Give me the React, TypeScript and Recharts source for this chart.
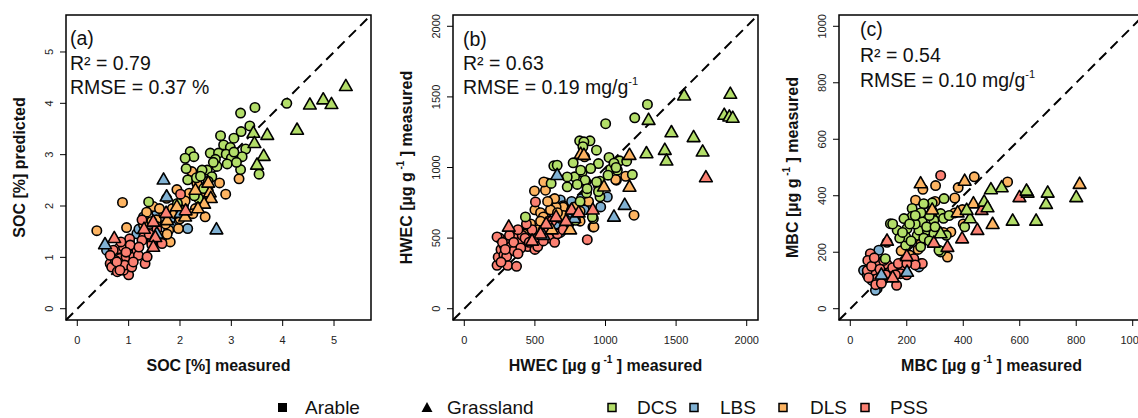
import React from 'react';
import { ScatterChart, Scatter, XAxis, YAxis, ReferenceArea, ReferenceLine } from 'recharts';

type Pt = [number, number];

const FONT = '"Liberation Sans", Arial, Helvetica, sans-serif';

const GROUPS = ['DCS', 'LBS', 'DLS', 'PSS'];
const GROUP_COLORS: Record<string, string> = { DCS: '#B3DE69', LBS: '#80B1D3', DLS: '#FDB462', PSS: '#FB8072' };
const LAND_USES = ['Arable', 'Grassland'];

// (a) SOC [%]
const socTicks = [0, 1, 2, 3, 4, 5];
const socDcsArable: Pt[] = [
  [4.08, 4.0], [3.46, 3.92], [3.18, 3.81], [3.36, 3.56], [3.19, 3.45], [2.79, 3.37], [3.05, 3.32], [3.28, 3.11],
  [2.85, 3.19], [2.98, 3.14], [2.2, 3.06], [2.27, 2.96], [2.1, 2.93], [2.59, 3.03], [2.75, 3.03], [2.9, 3.01],
  [3.21, 2.96], [3.0, 2.93], [2.69, 2.91], [2.92, 2.82], [2.72, 2.77], [2.53, 2.7], [2.62, 2.57], [3.18, 2.71],
  [3.54, 2.62], [2.12, 2.73], [2.43, 2.7], [2.15, 2.51], [2.46, 2.34], [2.36, 2.15], [1.39, 2.08], [2.01, 1.92],
  [2.32, 2.55], [2.65, 2.85], [3.05, 3.05], [2.55, 2.48], [1.95, 2.05], [2.28, 2.2], [3.1, 2.85], [2.4, 2.58],
];
const socDcsGrass: Pt[] = [
  [5.23, 4.33], [4.79, 4.07], [4.53, 3.97], [4.95, 3.98], [4.28, 3.48], [3.7, 3.38], [3.43, 3.42], [3.45, 3.22],
  [3.63, 2.97], [3.5, 2.8],
];
const socLbsArable: Pt[] = [
  [2.15, 1.56], [1.29, 1.79], [1.16, 1.46], [1.81, 1.73], [0.57, 1.14], [2.3, 2.5], [1.55, 1.85], [1.02, 1.28],
  [2.05, 2.2], [1.2, 1.55], [1.45, 1.3], [1.85, 1.6],
];
const socLbsGrass: Pt[] = [[1.68, 2.51], [1.74, 2.18], [2.71, 1.54], [0.54, 1.25], [2.01, 1.86], [1.55, 1.46]];
const socDlsArable: Pt[] = [
  [0.38, 1.52], [0.88, 2.07], [0.96, 1.58], [2.89, 2.23], [2.77, 2.45], [3.15, 2.53], [2.49, 1.79], [2.23, 2.67],
  [1.48, 1.99], [1.74, 2.15], [1.94, 2.32], [1.54, 1.73], [1.78, 1.53], [1.97, 1.56], [1.81, 1.3], [1.68, 1.86],
  [2.07, 2.02], [2.3, 1.95], [2.46, 2.06], [1.29, 1.63], [2.33, 2.44], [1.62, 1.42], [2.0, 1.75], [1.85, 1.95],
  [2.18, 2.25], [1.35, 1.88], [2.55, 2.3], [1.72, 1.65], [1.42, 1.48], [2.25, 1.85], [1.55, 1.6], [1.9, 1.85],
  [2.1, 2.1], [1.45, 1.7], [1.75, 1.45], [2.4, 2.2], [1.6, 1.95],
];
const socDlsGrass: Pt[] = [
  [2.58, 2.26], [2.6, 2.15], [2.47, 2.04], [2.3, 2.31], [2.1, 1.79], [1.94, 1.99], [2.55, 2.45], [1.75, 1.72], [2.35, 1.95],
];
const socPssArable: Pt[] = [
  [2.01, 2.23], [1.26, 1.73], [1.29, 1.39], [1.02, 1.36], [1.04, 1.22], [1.32, 0.88], [1.0, 0.66], [0.9, 0.75],
  [0.7, 1.07], [0.8, 1.17], [0.64, 0.88], [0.67, 0.81], [0.78, 0.72], [0.83, 0.98], [0.95, 1.01], [1.1, 1.01],
  [1.16, 1.14], [0.74, 0.94], [0.92, 0.85], [1.65, 1.27], [1.06, 0.81], [0.7, 1.14], [0.9, 1.2], [0.64, 1.04],
  [1.03, 1.24], [1.19, 1.04], [1.36, 1.01], [1.26, 1.33], [0.77, 0.91], [1.09, 0.91], [0.83, 0.75], [1.55, 1.55],
  [1.45, 1.25], [1.2, 1.2], [0.85, 1.3], [1.4, 1.45], [0.95, 1.1],
];
const socPssGrass: Pt[] = [[0.72, 1.37], [1.48, 1.69], [1.73, 1.86], [2.11, 1.91], [1.52, 1.39], [1.48, 1.2], [1.3, 1.55]];

// (b) HWEC [µg g-1]
const hwecTicks = [0, 500, 1000, 1500, 2000];
const hwecDcsArable: Pt[] = [
  [1297, 1447], [1207, 1352], [1001, 1310], [817, 1189], [890, 1189], [847, 1182], [840, 1147], [936, 1123],
  [1025, 1071], [950, 1028], [1100, 1047], [1150, 1045], [634, 1012], [658, 1016], [771, 1033], [835, 969],
  [1037, 988], [1084, 981], [1190, 950], [961, 903], [855, 910], [781, 934], [729, 863], [615, 887], [937, 898],
  [961, 792], [866, 820], [788, 626], [914, 638], [433, 650], [1018, 946], [895, 993], [824, 981], [729, 933],
  [1060, 1030], [1075, 1000], [800, 880], [870, 850], [950, 830], [907, 650], [820, 760],
];
const hwecDcsGrass: Pt[] = [
  [1884, 1520], [1557, 1508], [1841, 1371], [1877, 1359], [1901, 1350], [1305, 1335], [1467, 1248], [1624, 1213],
  [1420, 1123], [1290, 1099], [1688, 1111], [1432, 1047],
];
const hwecLbsArable: Pt[] = [
  [1013, 791], [966, 721], [680, 770], [700, 690], [720, 640], [690, 580], [650, 600], [760, 760], [800, 720],
  [600, 560], [850, 700], [620, 520], [640, 650], [700, 730], [740, 600], [760, 680], [580, 640], [830, 780], [680, 540],
];
const hwecLbsGrass: Pt[] = [[1136, 733], [1060, 650], [658, 945], [780, 640], [560, 520]];
const hwecDlsArable: Pt[] = [
  [1202, 662], [1077, 910], [911, 579], [497, 834], [587, 891], [1143, 938], [852, 1076], [575, 839], [563, 898],
  [623, 768], [500, 700], [540, 680], [560, 650], [918, 579], [700, 720], [760, 700], [650, 720], [820, 690],
  [450, 560], [420, 530], [600, 620], [1072, 915], [680, 640], [880, 760], [470, 600], [520, 560], [610, 700],
  [640, 780], [700, 660], [730, 600], [780, 720], [540, 620], [590, 760], [660, 680], [820, 620], [500, 520],
  [860, 900], [950, 870],
];
const hwecDlsGrass: Pt[] = [[1170, 862], [1170, 1087], [824, 1095], [989, 863], [847, 1087], [750, 560], [620, 560]];
const hwecPssArable: Pt[] = [
  [504, 756], [871, 489], [232, 307], [307, 307], [240, 365], [260, 420], [280, 450], [250, 500], [300, 480],
  [330, 440], [360, 500], [400, 480], [350, 410], [280, 380], [410, 520], [450, 440], [500, 420], [520, 500],
  [560, 560], [600, 500], [640, 470], [660, 530], [700, 560], [480, 560], [440, 600], [370, 300], [300, 370],
  [380, 560], [620, 620], [232, 508], [270, 470], [320, 520], [350, 470], [400, 430], [430, 500], [260, 330],
  [290, 420], [380, 390], [460, 470], [520, 440], [560, 480],
];
const hwecPssGrass: Pt[] = [
  [1711, 929], [315, 579], [650, 650], [720, 620], [760, 700], [910, 700], [810, 680], [580, 600], [540, 530], [480, 480],
];

// (c) MBC [µg g-1]
const mbcTicks = [0, 200, 400, 600, 800, 1000];
const mbcDcsArable: Pt[] = [
  [142, 301], [332, 390], [290, 375], [261, 370], [219, 355], [219, 327], [190, 319], [320, 337], [296, 313],
  [405, 290], [320, 201], [249, 219], [196, 225], [237, 260], [201, 284], [243, 278], [166, 278], [124, 177],
  [273, 278], [296, 266], [255, 307], [196, 254], [230, 300], [280, 330], [215, 240], [175, 250], [150, 300],
  [340, 260], [260, 372], [314, 207], [210, 300], [250, 340], [270, 290], [300, 290], [230, 330], [185, 270],
  [260, 250], [330, 320], [350, 330], [280, 240],
];
const mbcDcsGrass: Pt[] = [
  [800, 394], [699, 410], [693, 370], [628, 410], [624, 417], [575, 311], [658, 311], [536, 429], [498, 422],
  [474, 378], [486, 358], [424, 319], [412, 349], [320, 266],
];
const mbcLbsArable: Pt[] = [[101, 207], [47, 136], [95, 71], [243, 148], [77, 100], [60, 120], [89, 65]];
const mbcLbsGrass: Pt[] = [[201, 130], [110, 120]];
const mbcDlsArable: Pt[] = [
  [439, 467], [557, 449], [382, 429], [370, 392], [397, 351], [370, 339], [356, 272], [302, 436], [257, 423],
  [231, 384], [344, 183], [290, 346], [210, 190], [250, 230], [400, 300], [180, 205], [270, 250], [300, 380],
  [330, 270], [240, 210],
];
const mbcDlsGrass: Pt[] = [[812, 441], [405, 452], [249, 443], [436, 372], [504, 299], [290, 350], [380, 340]];
const mbcPssArable: Pt[] = [
  [320, 472], [251, 160], [71, 195], [225, 177], [62, 171], [83, 136], [118, 106], [164, 83], [184, 148],
  [95, 106], [112, 136], [148, 112], [178, 124], [130, 157], [255, 160], [100, 160], [140, 130], [60, 135],
  [90, 85], [200, 120], [130, 235], [230, 155], [118, 171], [75, 150], [105, 140], [125, 120], [150, 145],
  [170, 160], [85, 180], [200, 160], [160, 120], [65, 110], [110, 90],
];
const mbcPssGrass: Pt[] = [[599, 394], [465, 349], [450, 278], [396, 248], [296, 233], [344, 218], [130, 240], [150, 110], [200, 185]];

type Series = { group: string; arable: Pt[]; grass: Pt[] };

const panels = [
  {
    left: 0, domain: [-0.22, 5.72], ticks: socTicks,
    xTitle: { main: 'SOC [%] measured' }, yTitle: { main: 'SOC [%] predicted' },
    textX: 70, baselines: [45, 70, 94],
    stats: [{ t: '(a)' }, { t: 'R² = 0.79' }, { t: 'RMSE = 0.37 %' }],
    series: [
      { group: 'LBS', arable: socLbsArable, grass: socLbsGrass },
      { group: 'DLS', arable: socDlsArable, grass: socDlsGrass },
      { group: 'PSS', arable: socPssArable, grass: socPssGrass },
      { group: 'DCS', arable: socDcsArable, grass: socDcsGrass },
    ] as Series[],
  },
  {
    left: 387, domain: [-80, 2080], ticks: hwecTicks,
    xTitle: { main: 'HWEC [µg g', sup: '-1', tail: ' ] measured' },
    yTitle: { main: 'HWEC [µg g', sup: '-1', tail: ' ] measured' },
    textX: 76, baselines: [46, 70, 94],
    stats: [{ t: '(b)' }, { t: 'R² = 0.63' }, { t: 'RMSE = 0.19 mg/g', sup: '-1' }],
    series: [
      { group: 'LBS', arable: hwecLbsArable, grass: hwecLbsGrass },
      { group: 'DLS', arable: hwecDlsArable, grass: hwecDlsGrass },
      { group: 'PSS', arable: hwecPssArable, grass: hwecPssGrass },
      { group: 'DCS', arable: hwecDcsArable, grass: hwecDcsGrass },
    ] as Series[],
  },
  {
    left: 773, domain: [-40, 1040], ticks: mbcTicks,
    xTitle: { main: 'MBC [µg g', sup: '-1', tail: ' ] measured' },
    yTitle: { main: 'MBC [µg g', sup: '-1', tail: ' ] measured' },
    textX: 87, baselines: [36, 62, 87],
    stats: [{ t: '(c)' }, { t: 'R² = 0.54' }, { t: 'RMSE = 0.10 mg/g', sup: '-1' }],
    series: [
      { group: 'LBS', arable: mbcLbsArable, grass: mbcLbsGrass },
      { group: 'DLS', arable: mbcDlsArable, grass: mbcDlsGrass },
      { group: 'PSS', arable: mbcPssArable, grass: mbcPssGrass },
      { group: 'DCS', arable: mbcDcsArable, grass: mbcDcsGrass },
    ] as Series[],
  },
];

const toXY = (pts: Pt[]) => pts.map(([x, y]) => ({ x, y }));

const circleShape = (color: string) => (p: any) => (
  <circle cx={p.cx} cy={p.cy} r={4.7} fill={color} stroke="#000" strokeWidth={1.6} />
);
const triShape = (color: string) => (p: any) => (
  <polygon
    points={`${p.cx},${p.cy - 7} ${p.cx - 6.4},${p.cy + 4.2} ${p.cx + 6.4},${p.cy + 4.2}`}
    fill={color} stroke="#000" strokeWidth={1.6} strokeLinejoin="round"
  />
);

type Title = { main: string; sup?: string; tail?: string };

function TitleText({ t }: { t: Title }) {
  return (
    <>
      {t.main}
      {t.sup && <tspan dy={-8} fontSize={10}>{' ' + t.sup}</tspan>}
      {t.tail && <tspan dy={8}>{t.tail}</tspan>}
    </>
  );
}

function XTitle(props: any) {
  const vb = props.viewBox || {};
  return (
    <text x={vb.x + vb.width / 2} y={vb.y + 51} textAnchor="middle" fontFamily={FONT} fontSize={16} fontWeight="bold" fill="#111">
      <TitleText t={props.title} />
    </text>
  );
}

function YTitle(props: any) {
  const vb = props.viewBox || {};
  const bx = vb.x + vb.width - 41;
  const cy = vb.y + vb.height / 2;
  return (
    <text transform={`translate(${bx},${cy}) rotate(-90)`} textAnchor="middle" fontFamily={FONT} fontSize={16} fontWeight="bold" fill="#111">
      <TitleText t={props.title} />
    </text>
  );
}

function YTick(props: any) {
  const { x, y, payload } = props;
  return (
    <text transform={`translate(${x},${y}) rotate(-90)`} textAnchor="middle" fontFamily={FONT} fontSize={11} fill="#222">
      {payload.value}
    </text>
  );
}

function Panel({ p }: { p: (typeof panels)[number] }) {
  const [lo, hi] = p.domain;
  return (
    <div style={{ position: 'absolute', left: p.left, top: 0 }}>
      <ScatterChart width={386} height={418} margin={{ top: 15, right: 15, bottom: 68, left: 30 }}>
        <XAxis
          type="number" dataKey="x" domain={[lo, hi]} allowDataOverflow ticks={p.ticks}
          height={30} tickSize={6} tickMargin={10} axisLine={false}
          tickLine={{ stroke: '#000' }} tick={{ fontSize: 11, fill: '#222', fontFamily: FONT }}
          label={<XTitle title={p.xTitle} />}
        />
        <YAxis
          type="number" dataKey="y" domain={[lo, hi]} allowDataOverflow ticks={p.ticks}
          width={36} tickSize={6} tickMargin={7} axisLine={false}
          tickLine={{ stroke: '#000' }} tick={<YTick />}
          label={<YTitle title={p.yTitle} />}
        />
        <ReferenceLine
          segment={[{ x: lo, y: lo }, { x: hi, y: hi }]}
          stroke="#000" strokeWidth={2} strokeDasharray="10 6"
        />
        {p.series.map((s) => (
          <Scatter key={s.group + '-a'} data={toXY(s.arable)} shape={circleShape(GROUP_COLORS[s.group])} isAnimationActive={false} />
        ))}
        {p.series.map((s) => (
          <Scatter key={s.group + '-g'} data={toXY(s.grass)} shape={triShape(GROUP_COLORS[s.group])} isAnimationActive={false} />
        ))}
        <ReferenceArea x1={lo} x2={hi} y1={lo} y2={hi} fill="none" fillOpacity={0} stroke="#000" strokeWidth={1.5} />
      </ScatterChart>
      <svg width={386} height={110} style={{ position: 'absolute', left: 0, top: 0, pointerEvents: 'none' }}>
        {p.stats.map((s: any, i) => (
          <text key={i} x={p.textX} y={p.baselines[i]} fontFamily={FONT} fontSize={19.5} fill="#111">
            {s.t}
            {s.sup && <tspan dy={-9} fontSize={11}>{s.sup}</tspan>}
          </text>
        ))}
      </svg>
    </div>
  );
}

function Legend() {
  const groupX = [608, 690, 779, 861];
  const groupTextX = [637, 720, 810, 890];
  return (
    <svg width={1138} height={418} style={{ position: 'absolute', left: 0, top: 0, pointerEvents: 'none' }}>
      <rect x={278} y={403} width={9} height={9} fill="#000" />
      <text x={305} y={413.5} fontFamily={FONT} fontSize={19} fill="#111">{LAND_USES[0]}</text>
      <polygon points="427,402 421.5,412 432.5,412" fill="#000" />
      <text x={447} y={413.5} fontFamily={FONT} fontSize={19} fill="#111">{LAND_USES[1]}</text>
      {GROUPS.map((g, i) => (
        <g key={g}>
          <rect x={groupX[i]} y={403.5} width={8} height={8} fill={GROUP_COLORS[g]} stroke="#000" strokeWidth={1.5} />
          <text x={groupTextX[i]} y={413.5} fontFamily={FONT} fontSize={19} fill="#111">{g}</text>
        </g>
      ))}
    </svg>
  );
}

export default function App() {
  return (
    <div style={{ position: 'absolute', left: 0, top: 0, width: 1138, height: 418, overflow: 'hidden', background: '#fff', fontFamily: FONT }}>
      {panels.map((p, i) => (
        <Panel key={i} p={p} />
      ))}
      <Legend />
    </div>
  );
}
